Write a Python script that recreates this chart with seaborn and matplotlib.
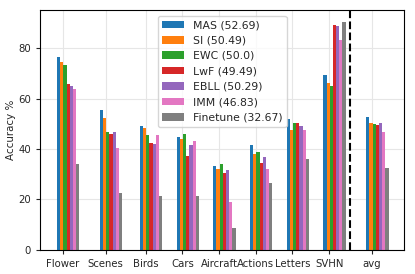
import matplotlib
matplotlib.use('Agg')
import matplotlib.pyplot as plt
import pandas as pd
import seaborn as sns

# Data
tasks = ['Flower', 'Scenes', 'Birds', 'Cars', 'Aircraft', 'Actions', 'Letters', 'SVHN', 'avg']
methods = ['MAS', 'SI', 'EWC', 'LwF', 'EBLL', 'IMM', 'Finetune']
mas = [76.5, 55.3, 49.1, 44.6, 33.3, 41.7, 51.9, 69.2, 52.69]
si = [74.6, 52.4, 48.5, 43.9, 32.0, 38.2, 47.6, 66.1, 50.49]
ewc = [73.4, 46.9, 45.4, 45.9, 34.0, 38.9, 50.3, 65.0, 50.0]
lwf = [65.7, 45.9, 42.3, 37.2, 30.6, 34.5, 50.3, 89.2, 49.49]
ebll = [65.0, 46.7, 42.1, 41.7, 31.7, 36.8, 49.3, 88.9, 50.29]
imm = [63.8, 40.3, 45.5, 43.1, 18.9, 32.0, 47.6, 83.1, 46.83]
finetune = [33.9, 22.5, 21.4, 21.3, 8.6, 26.6, 36.1, 90.5, 32.67]
colors = ['#1f77b4', '#ff7f0e', '#2ca02c', '#d62728', '#9467bd', '#e377c2', '#7f7f7f']

# group positions on the x axis (avg is set a bit apart)
group_pos = [0, 1.17, 2.26, 3.26, 4.26, 5.26, 6.26, 7.26, 8.43]

series = [mas, si, ewc, lwf, ebll, imm, finetune]
rows = []
for name, vals in zip(methods, series):
    label = f'{name} ({vals[-1]})'
    for pos, v in zip(group_pos, vals):
        rows.append({'pos': pos, 'acc': v, 'method': label})
df = pd.DataFrame(rows)

sns.set_style('ticks')
plt.rcParams['font.family'] = ['DejaVu Sans']

fig = plt.figure(figsize=(4.15, 2.74), dpi=100)
ax = fig.add_axes([0.097, 0.088, 0.877, 0.874])

sns.barplot(data=df, x='pos', y='acc', hue='method', native_scale=True,
            palette=colors, saturation=1, width=0.61, errorbar=None,
            linewidth=0, ax=ax)

ax.axvline(7.68, color='black', linestyle='--', linewidth=1.5)

ax.set_xlim(-0.76, 9.16)
ax.set_ylim(0, 95)
ax.set_xticks([p - 0.145 for p in group_pos])
ax.set_xticklabels(tasks)
ax.set_yticks([0, 20, 40, 60, 80])
ax.set_xlabel('')
ax.set_ylabel('Accuracy %', fontsize=7.4, labelpad=2)
ax.tick_params(labelsize=7.3, length=3, width=0.8)
ax.grid(True, color='#e6e6e6', linewidth=0.8)
ax.set_axisbelow(True)
for s in ax.spines.values():
    s.set_color('black')
    s.set_linewidth(0.8)

handles, labels = ax.get_legend_handles_labels()
ax.legend(handles, labels, loc='upper center', fontsize=7.8)

plt.savefig('out.png', dpi=100)
